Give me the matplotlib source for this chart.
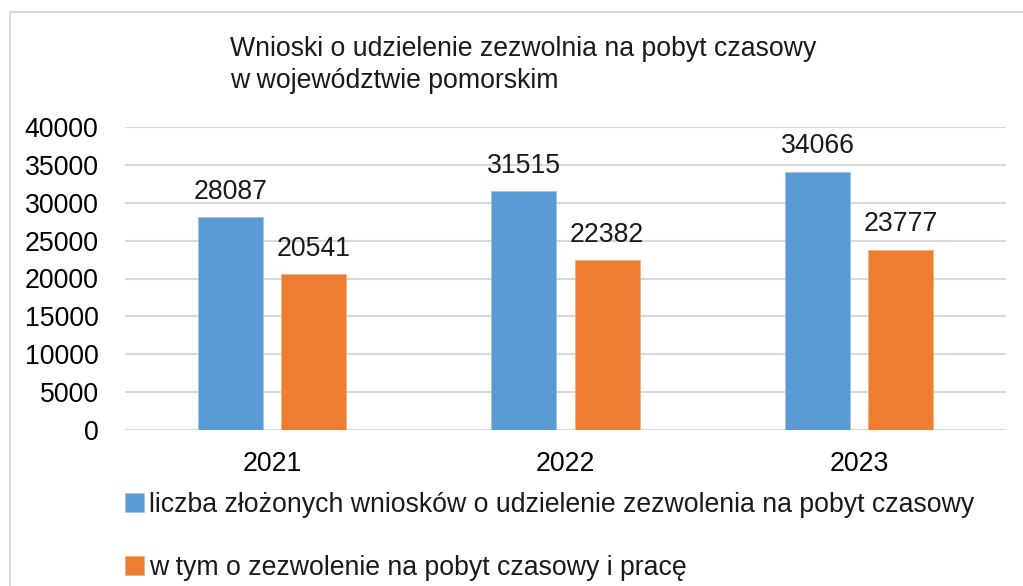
import matplotlib
matplotlib.use("Agg")
import matplotlib.pyplot as plt
import numpy as np
from matplotlib.patches import Rectangle

plt.rcParams['font.family'] = ['Liberation Sans', 'DejaVu Sans']

years = ["2021", "2022", "2023"]
wnioski = [28087, 31515, 34066]
praca = [20541, 22382, 23777]
series_labels = ["liczba złożonych wniosków o udzielenie zezwolenia na pobyt czasowy",
                 "w tym o zezwolenie na pobyt czasowy i pracę"]
title = "Wnioski o udzielenie zezwolnia na pobyt czasowy\nw województwie pomorskim"
yticks = [0, 5000, 10000, 15000, 20000, 25000, 30000, 35000, 40000]

blue = "#5B9BD5"
orange = "#ED7D31"
FS = 19.2

W, H = 1023, 586
fig = plt.figure(figsize=(W/100, H/100), dpi=100)
fig.patch.set_facecolor("white")

# outer border
fig.patches.append(Rectangle((10/W, -0.1), 1.2, 1 - 12/H + 0.1, transform=fig.transFigure,
                             fill=False, edgecolor="#D9D9D9", linewidth=1.5))

ax = fig.add_axes([125/W, 1 - 430/H, (1006-125)/W, (430-127)/H])
x = np.arange(len(years))
bw = 0.222
off = 0.142
b1 = ax.bar(x - off, wnioski, bw, color=blue, edgecolor="#9DC3E6", linewidth=0.6, label=series_labels[0], zorder=3)
b2 = ax.bar(x + off, praca, bw, color=orange, edgecolor="#F4B183", linewidth=0.6, label=series_labels[1], zorder=3)
for bars in (b1, b2):
    ax.bar_label(bars, labels=[str(v) for v in bars.datavalues], padding=9, fontsize=FS, color="#1a1a1a")

ax.set_xlim(-0.5, 2.5)
ax.set_ylim(0, 40000)
ax.set_yticks(yticks)
ax.set_yticklabels([str(t) for t in yticks], fontsize=FS)
ax.set_xticks(x)
ax.set_xticklabels(years, fontsize=FS)
ax.tick_params(axis='y', length=0, pad=19)
ax.tick_params(axis='x', length=0, pad=15)
ax.yaxis.grid(True, color="#D9D9D9", linewidth=1.5, zorder=0)
for s in ax.spines.values():
    s.set_visible(False)
ax.axhline(0, color="#D9D9D9", linewidth=1.5, zorder=2)

fig.text(230/W, 1 - 36/H, title, fontsize=FS, va="top", ha="left", linespacing=1.3, color="#1a1a1a")

leg = fig.legend(handles=[b1, b2], labels=series_labels, loc="upper left",
                 bbox_to_anchor=(125/W, 1 - 492/H), frameon=False, fontsize=FS,
                 handlelength=0.7, handleheight=0.7, handletextpad=0.2, labelspacing=1.38,
                 borderpad=0, borderaxespad=0)
for t in leg.get_texts():
    t.set_color("#1a1a1a")

fig.savefig("out.png", dpi=100, facecolor="white")
